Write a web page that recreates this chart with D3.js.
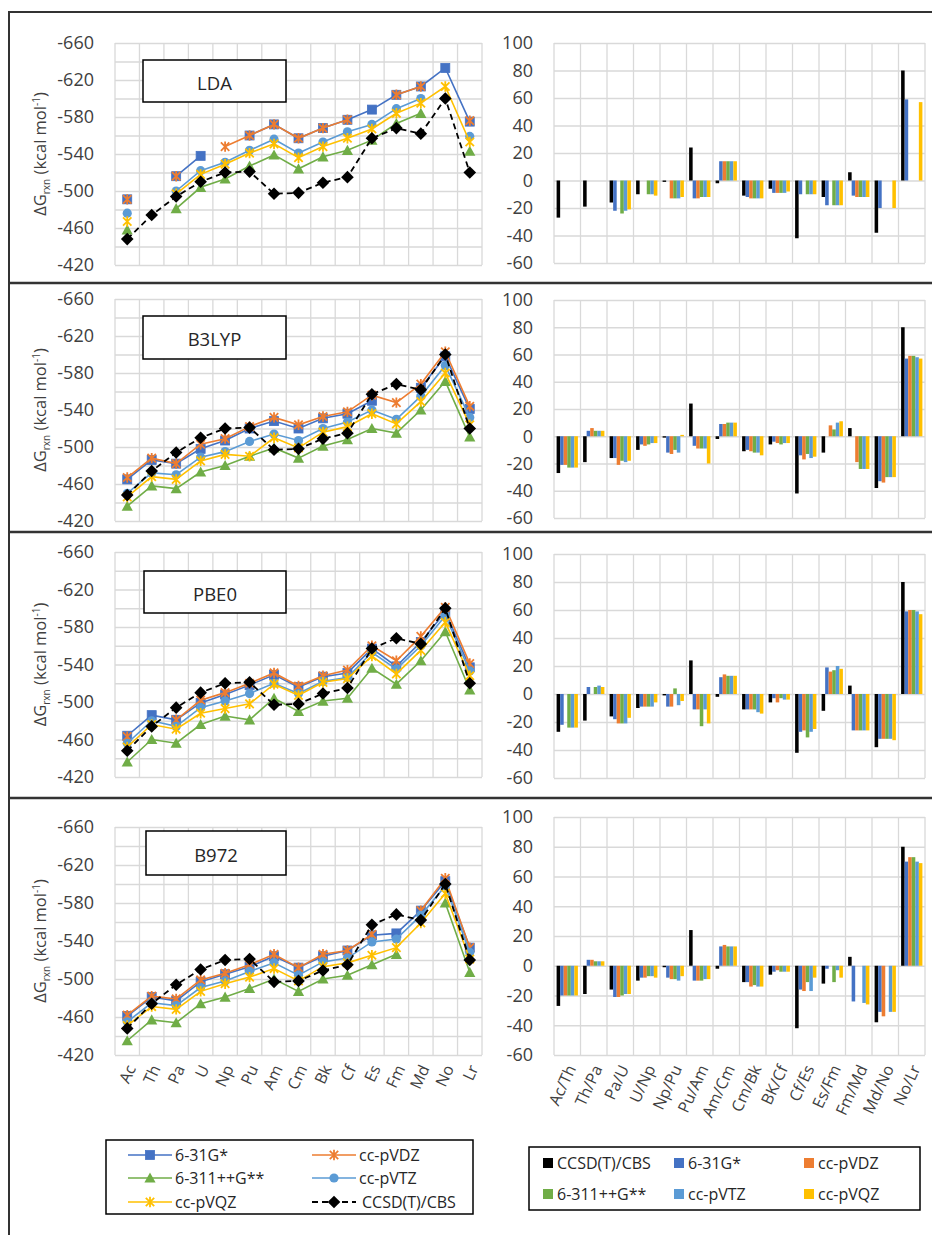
<!DOCTYPE html>
<html><head><meta charset="utf-8">
<script src="https://cdn.jsdelivr.net/npm/d3@7"></script>
<style>
html,body{margin:0;padding:0;background:#fff;}
svg{display:block;}
</style></head><body>
<svg id="fig" width="932" height="1235"></svg>
<script>
// ---- categories & labels ----
const elements = ["Ac","Th","Pa","U","Np","Pu","Am","Cm","Bk","Cf","Es","Fm","Md","No","Lr"];
const pairs = ["Ac/Th","Th/Pa","Pa/U","U/Np","Np/Pu","Pu/Am","Am/Cm","Cm/Bk","BK/Cf","Cf/Es","Es/Fm","Fm/Md","Md/No","No/Lr"];
const methods = ["6-31G*","cc-pVDZ","6-311++G**","cc-pVTZ","cc-pVQZ"];
const refName = "CCSD(T)/CBS";
const functionals = ["LDA","B3LYP","PBE0","B972"];
const lineTicks = [-660,-620,-580,-540,-500,-460,-420];
const barTicks = [100,80,60,40,20,0,-20,-40,-60];

// ---- reference: reaction free energies and successive differences (kcal/mol) ----
const ccsdRxn  = [-448,-474,-494,-510,-520,-521,-497,-498,-509,-515,-557,-568,-562,-600,-520];
const ccsdStep = [-27,-19,-16,-10,-1,24,-2,-11,-6,-42,-12,6,-38,80];

// ---- LDA ----
const lda631G  = [-491,null,-516,-538,null,-560,-572,-557,-568,-577,-588,-604,-613,-633,-575];
const ldaVDZ   = [-491,null,-516,null,-548,-560,-572,-557,-568,-577,null,-604,-613,null,-576];
const lda6311G = [-458,null,-481,-504,-513,-527,-539,-524,-537,-544,-555,-573,-584,null,-543];
const ldaVTZ   = [-476,null,-500,-522,-531,-544,-556,-541,-553,-564,-572,-589,-600,null,-559];
const ldaVQZ   = [-467,null,-497,-518,-529,-541,-551,-536,-548,-557,-567,-584,-595,-613,-553];
const ldaStep631G  = [null,null,-22,null,null,-13,14,-12,-9,-10,-18,-11,-20,59];
const ldaStepVDZ   = [null,null,null,null,-13,-13,14,-13,-9,null,null,-12,null,null];
const ldaStep6311G = [null,null,-24,-10,-13,-12,14,-13,-9,-10,-18,-12,null,null];
const ldaStepVTZ   = [null,null,-22,-10,-13,-12,14,-13,-9,-10,-18,-12,null,null];
const ldaStepVQZ   = [null,null,-21,-11,-12,-12,14,-13,-8,-10,-18,-12,-20,57];

// ---- B3LYP ----
const b3lyp631G  = [-465,-486,-482,-498,-507,-520,-528,-520,-531,-536,-550,null,-564,-598,-541];
const b3lypVDZ   = [-467,-488,-482,-503,-509,-522,-532,-524,-533,-538,-556,-548,-568,-603,-544];
const b3lyp6311G = [-436,-458,-455,-473,-480,-490,-499,-488,-501,-508,-520,-515,-540,-571,-511];
const b3lypVTZ   = [-450,-472,-470,-489,-495,-506,-514,-507,-520,-527,-540,-530,-555,-588,-532];
const b3lypVQZ   = [-446,-468,-465,-485,-492,-490,-510,-499,-516,-522,-536,-525,-549,-580,-524];
const b3lypStep631G  = [-21,4,-16,-6,-12,-7,9,-10,-4,-14,null,null,-33,57];
const b3lypStepVDZ   = [-21,6,-21,-7,-13,-9,9,-11,-5,-17,8,-19,-34,59];
const b3lypStep6311G = [-23,4,-18,-6,-10,-9,10,-12,-6,-13,5,-24,-30,59];
const b3lypStepVTZ   = [-23,4,-19,-5,-12,-9,10,-12,-5,-16,10,-24,-30,58];
const b3lypStepVQZ   = [-23,4,-18,-5,1,-20,10,-14,-5,-15,11,-24,-30,57];

// ---- PBE0 ----
const pbe0631G  = [-464,-486,-481,-499,-508,-518,-529,-516,-527,-531,-557,-538,-564,-596,-537];
const pbe0VDZ   = [-463,null,-481,-502,-510,-520,-531,-517,-528,-534,-560,-544,-570,-601,-541];
const pbe06311G = [-436,-460,-456,-476,-485,-481,-504,-490,-501,-504,-536,-519,-544,-575,-513];
const pbe0VTZ   = [-456,-480,-474,-494,-501,-509,-520,-509,-522,-526,-553,-535,-560,-592,-533];
const pbe0VQZ   = [-452,-476,-471,-488,-493,-498,-519,-507,-521,-525,-549,-530,-555,-585,-528];
const pbe0Step631G  = [-22,5,-18,-9,-9,-11,12,-11,-3,-27,19,-26,-32,59];
const pbe0StepVDZ   = [null,null,-21,-9,-9,-11,14,-11,-6,-26,16,-26,-32,60];
const pbe0Step6311G = [-24,5,-21,-9,4,-23,13,-11,-3,-31,17,-26,-32,60];
const pbe0StepVTZ   = [-24,6,-21,-9,-8,-11,13,-13,-4,-27,20,-26,-32,59];
const pbe0StepVQZ   = [-24,5,-17,-6,-5,-21,13,-14,-4,-25,18,-26,-33,57];

// ---- B972 ----
const b972631G  = [-461,-481,-477,-497,-505,-513,-524,-512,-524,-530,-546,-548,-572,-603,-533];
const b972VDZ   = [-462,-482,-479,-499,-506,-515,-526,-512,-526,-530,-547,null,-572,-606,-533];
const b9726311G = [-435,-457,-454,-474,-481,-490,-500,-487,-500,-504,-515,-526,null,-580,-507];
const b972VTZ   = [-455,-475,-472,-491,-498,-508,-517,-504,-518,-522,-539,-542,-567,-598,-528];
const b972VQZ   = [-451,-471,-468,-487,-495,-502,-511,-498,-513,-517,-525,-533,-559,-590,-521];
const b972Step631G  = [-20,4,-21,-8,-8,-10,13,-11,-4,-16,-2,-24,-31,70];
const b972StepVDZ   = [-20,4,-21,-8,-9,-10,14,-14,-3,-17,null,null,-34,73];
const b972Step6311G = [-20,3,-20,-7,-9,-10,13,-13,-4,-11,-11,null,null,73];
const b972StepVTZ   = [-20,3,-19,-7,-10,-9,13,-14,-4,-17,-3,-25,-31,70];
const b972StepVQZ   = [-20,3,-19,-8,-7,-9,13,-14,-4,-8,-8,-26,-31,69];

// ---- styling ----
const FONT = "'Open Sans','Noto Sans',sans-serif";
const TEXT = "#404040";
const GRID = "#d9d9d9";
const methodColors = ["#4472C4","#ED7D31","#70AD47","#5B9BD5","#FFC000"];
const methodMarkers = ["square","star","triangle","circle","star"];

// ---- layout of the four rows ----
const rows = [
  {title:functionals[0], lineY:[43,265],  barY:[43,263],  box:[143,60,286,102],
   rxn:[lda631G,ldaVDZ,lda6311G,ldaVTZ,ldaVQZ],
   step:[ldaStep631G,ldaStepVDZ,ldaStep6311G,ldaStepVTZ,ldaStepVQZ]},
  {title:functionals[1], lineY:[299,521], barY:[300,518], box:[143,316,286,359],
   rxn:[b3lyp631G,b3lypVDZ,b3lyp6311G,b3lypVTZ,b3lypVQZ],
   step:[b3lypStep631G,b3lypStepVDZ,b3lypStep6311G,b3lypStepVTZ,b3lypStepVQZ]},
  {title:functionals[2], lineY:[552,777], barY:[554,778], box:[144,571,286,613],
   rxn:[pbe0631G,pbe0VDZ,pbe06311G,pbe0VTZ,pbe0VQZ],
   step:[pbe0Step631G,pbe0StepVDZ,pbe0Step6311G,pbe0StepVTZ,pbe0StepVQZ]},
  {title:functionals[3], lineY:[827,1055], barY:[817,1055], box:[146,831,286,875],
   rxn:[b972631G,b972VDZ,b9726311G,b972VTZ,b972VQZ],
   step:[b972Step631G,b972StepVDZ,b972Step6311G,b972StepVTZ,b972StepVQZ]}
];

const svg = d3.select("#fig").attr("font-family", FONT);
const LX0 = 115, LX1 = 482, BX0 = 554, BX1 = 925;
const plainNumber = d => String(d);   // keep the ASCII hyphen as minus sign

const xLine = d3.scaleBand().domain(elements).range([LX0, LX1]);
const cx = e => xLine(e) + xLine.bandwidth() / 2;
const xBar = d3.scaleBand().domain(pairs).range([BX0, BX1]);
const barNames = [refName, ...methods];
const xInner = d3.scaleBand().domain(barNames).range([2.6, xBar.bandwidth() - 2.6]);
const barColors = ["#000000", ...methodColors];

// marker painter
function marker(sel, type, color) {
  if (type === "square") {
    sel.append("rect").attr("x", -4.5).attr("y", -4.5).attr("width", 9).attr("height", 9)
      .attr("fill", color).attr("stroke", color).attr("stroke-width", 0.8);
  } else if (type === "circle") {
    sel.append("circle").attr("r", 4.6).attr("fill", color);
  } else if (type === "triangle") {
    sel.append("path").attr("d", "M0,-5.5L5.6,4.6L-5.6,4.6Z").attr("fill", color);
  } else if (type === "diamond") {
    sel.append("path").attr("d", "M0,-6.3L6.3,0L0,6.3L-6.3,0Z").attr("fill", color);
  } else if (type === "star") {
    sel.append("path").attr("d", "M-4.2,-4.2L4.2,4.2M-4.2,4.2L4.2,-4.2M0,-5.2L0,5.2")
      .attr("fill", "none").attr("stroke", color).attr("stroke-width", 1.8);
  }
}

function styleAxisText(g, size) {
  g.attr("font-family", FONT).attr("font-size", size);
  g.select(".domain").remove();
  g.selectAll("text").attr("fill", TEXT);
}

function drawRow(r, withLabels) {
  // ----- line chart -----
  const y = d3.scaleLinear().domain([-420, -660]).range(r.lineY.slice().reverse());
  const g = svg.append("g");

  g.append("g").attr("transform", `translate(${LX0},0)`)
    .call(d3.axisLeft(y).tickValues(d3.range(-660, -419, 20)).tickSize(-(LX1 - LX0)).tickFormat(""))
    .call(s => { s.select(".domain").remove(); s.selectAll("line").attr("stroke", GRID).attr("stroke-width", 1.3); });
  g.append("g").selectAll("line").data(elements.map(e => xLine(e)).concat([LX1])).join("line")
    .attr("x1", d => d).attr("x2", d => d).attr("y1", r.lineY[0]).attr("y2", r.lineY[1])
    .attr("stroke", GRID).attr("stroke-width", 1.3);

  g.append("g").attr("transform", `translate(${LX0},0)`)
    .call(d3.axisLeft(y).tickValues(lineTicks).tickFormat(plainNumber).tickSize(0).tickPadding(21))
    .call(s => styleAxisText(s, 18));

  const line = d3.line().defined(d => d.v != null).x(d => cx(d.e)).y(d => y(d.v));

  const drawSeries = (vals, color, type, dashed, width) => {
    const pts = elements.map((e, k) => ({e, v: vals[k]}));
    g.append("path").attr("d", line(pts)).attr("fill", "none")
      .attr("stroke", color).attr("stroke-width", width)
      .attr("stroke-dasharray", dashed ? "6,4" : null);
    g.append("g").selectAll("g").data(pts.filter(d => d.v != null)).join("g")
      .attr("transform", d => `translate(${cx(d.e)},${y(d.v)})`)
      .each(function () { marker(d3.select(this), type, color); });
  };
  r.rxn.forEach((vals, i) => drawSeries(vals, methodColors[i], methodMarkers[i], false, 1.6));
  drawSeries(ccsdRxn, "#000000", "diamond", true, 1.8);

  // title box
  const [bx0, by0, bx1, by1] = r.box;
  g.append("rect").attr("x", bx0).attr("y", by0).attr("width", bx1 - bx0).attr("height", by1 - by0)
    .attr("fill", "#fff").attr("stroke", "#000").attr("stroke-width", 1.5);
  g.append("text").attr("x", (bx0 + bx1) / 2).attr("y", (by0 + by1) / 2 + 1)
    .attr("text-anchor", "middle").attr("dominant-baseline", "central")
    .attr("font-size", 18.5).attr("fill", "#262626").text(r.title);

  // y-axis title
  const cy = (r.lineY[0] + r.lineY[1]) / 2;
  const yt = g.append("text").attr("transform", `translate(46,${cy}) rotate(-90)`)
    .attr("text-anchor", "middle").attr("font-size", 16.5).attr("fill", TEXT);
  yt.append("tspan").text("ΔG");
  yt.append("tspan").attr("font-size", 10).attr("dy", 4).text("rxn");
  yt.append("tspan").attr("dy", -4).text(" (kcal mol");
  yt.append("tspan").attr("font-size", 10).attr("dy", -6).text("-1");
  yt.append("tspan").attr("dy", 6).text(")");

  // ----- bar chart -----
  const yb = d3.scaleLinear().domain([-60, 100]).range(r.barY.slice().reverse());
  const h = svg.append("g");
  h.append("g").attr("transform", `translate(${BX0},0)`)
    .call(d3.axisLeft(yb).tickValues(barTicks).tickSize(-(BX1 - BX0)).tickFormat(""))
    .call(s => { s.select(".domain").remove(); s.selectAll("line").attr("stroke", GRID).attr("stroke-width", 1.3); });
  h.append("g").selectAll("line").data(pairs.map(p => xBar(p)).concat([BX1])).join("line")
    .attr("x1", d => d).attr("x2", d => d).attr("y1", r.barY[0]).attr("y2", r.barY[1])
    .attr("stroke", GRID).attr("stroke-width", 1.3);
  h.append("g").attr("transform", `translate(${BX0},0)`)
    .call(d3.axisLeft(yb).tickValues(barTicks).tickFormat(plainNumber).tickSize(0).tickPadding(21))
    .call(s => styleAxisText(s, 18));

  const barSeries = [ccsdStep, ...r.step];
  barSeries.forEach((vals, si) => {
    const data = pairs.map((p, k) => ({p, v: vals[k]})).filter(d => d.v != null);
    h.append("g").selectAll("rect").data(data).join("rect")
      .attr("x", d => xBar(d.p) + xInner(barNames[si]))
      .attr("width", xInner.bandwidth())
      .attr("y", d => Math.min(yb(0), yb(d.v)))
      .attr("height", d => Math.abs(yb(d.v) - yb(0)))
      .attr("fill", barColors[si]);
  });

  if (withLabels) {
    g.append("g").selectAll("text").data(elements).join("text")
      .attr("transform", d => `translate(${cx(d) + 4},${r.lineY[1] + 11}) rotate(-65)`)
      .attr("text-anchor", "end").attr("dy", "0.35em")
      .attr("font-size", 16).attr("fill", TEXT).text(d => d);
    h.append("g").selectAll("text").data(pairs).join("text")
      .attr("transform", d => `translate(${xBar(d) + xBar.bandwidth() / 2 + 4},${r.barY[1] + 11}) rotate(-65)`)
      .attr("text-anchor", "end").attr("dy", "0.35em")
      .attr("font-size", 16).attr("fill", TEXT).text(d => d);
  }
}

rows.forEach((r, i) => drawRow(r, i === rows.length - 1));

// ---- left legend ----
const lg = svg.append("g");
lg.append("rect").attr("x", 106).attr("y", 1140).attr("width", 367).attr("height", 74)
  .attr("fill", "#fff").attr("stroke", "#000").attr("stroke-width", 1.5);
const lineLegend = [
  {name: methods[0], color: methodColors[0], type: methodMarkers[0], x: 128, y: 1155},
  {name: methods[1], color: methodColors[1], type: methodMarkers[1], x: 312, y: 1155},
  {name: methods[2], color: methodColors[2], type: methodMarkers[2], x: 128, y: 1178},
  {name: methods[3], color: methodColors[3], type: methodMarkers[3], x: 312, y: 1178},
  {name: methods[4], color: methodColors[4], type: methodMarkers[4], x: 128, y: 1202},
  {name: refName, color: "#000000", type: "diamond", x: 312, y: 1202, dashed: true}
];
lineLegend.forEach(d => {
  lg.append("line").attr("x1", d.x).attr("x2", d.x + 44).attr("y1", d.y).attr("y2", d.y)
    .attr("stroke", d.color).attr("stroke-width", d.dashed ? 1.8 : 1.6)
    .attr("stroke-dasharray", d.dashed ? "6,4" : null);
  marker(lg.append("g").attr("transform", `translate(${d.x + 22},${d.y})`), d.type, d.color);
  lg.append("text").attr("x", d.x + (d.dashed ? 50 : 47)).attr("y", d.y)
    .attr("dominant-baseline", "central").attr("font-size", 16).attr("fill", "#262626").text(d.name);
});

// ---- right legend ----
const bg = svg.append("g");
bg.append("rect").attr("x", 529).attr("y", 1147).attr("width", 391).attr("height", 63)
  .attr("fill", "#fff").attr("stroke", "#000").attr("stroke-width", 1.5);
const barLegendPos = [[543,1163],[674,1163],[804,1163],[543,1194],[674,1194],[804,1194]];
barNames.forEach((n, i) => {
  const [x, yv] = barLegendPos[i];
  bg.append("rect").attr("x", x).attr("y", yv - 5).attr("width", 10).attr("height", 10).attr("fill", barColors[i]);
  bg.append("text").attr("x", x + 14).attr("y", yv).attr("dominant-baseline", "central")
    .attr("font-size", 16).attr("fill", "#262626").text(n);
});

// ---- figure frame and row separators ----
const fr = svg.append("g").attr("stroke", "#333").attr("fill", "none");
fr.append("line").attr("x1", 9).attr("x2", 932).attr("y1", 12).attr("y2", 12).attr("stroke-width", 2);
fr.append("line").attr("x1", 9).attr("x2", 9).attr("y1", 11).attr("y2", 1235).attr("stroke-width", 2);
[283, 532, 798].forEach(yv => {
  fr.append("line").attr("x1", 9).attr("x2", 932).attr("y1", yv).attr("y2", yv).attr("stroke-width", 2.5);
});
</script></body></html>
